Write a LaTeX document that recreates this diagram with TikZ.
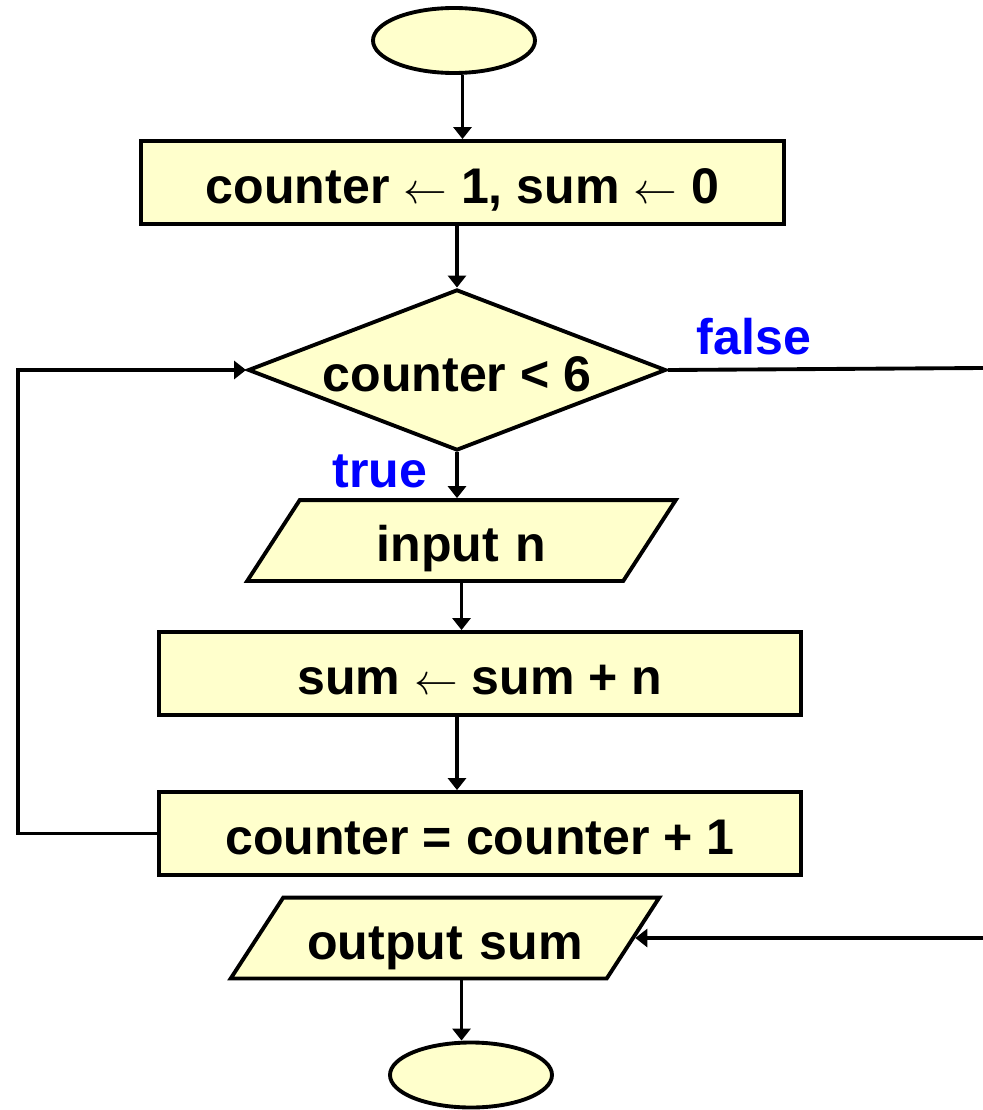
\documentclass[tikz,border=0pt]{standalone}
\usepackage{fontspec}
\setmainfont{Liberation Sans}
\usepackage{amsmath}
\usetikzlibrary{shapes.geometric, arrows.meta}
\definecolor{boxfill}{HTML}{FFFFCC}
\newcommand{\getsarrow}{{\fontsize{36}{36}\selectfont$\leftarrow$}}

\tikzset{
  flow/.style={draw, line width=2.2pt, fill=boxfill, text height=24pt, text depth=0pt,
    font=\bfseries\fontsize{28.5}{34}\selectfont},
  term/.style={flow, ellipse, text height=0pt, inner sep=0pt, minimum width=3.24cm, minimum height=1.3cm},
  proc/.style={flow, rectangle, minimum width=12.85cm, minimum height=1.66cm, inner sep=0pt},
  cond/.style={flow, diamond, shape aspect=2.6, inner sep=0pt, minimum width=8.36cm, minimum height=3.22cm},
  io/.style={flow, trapezium, trapezium left angle=57, trapezium right angle=123,
    text width=6.47cm, align=center, inner xsep=0pt, inner ysep=0.387cm},
  lbl/.style={text=blue, font=\bfseries\fontsize{28.5}{34}\selectfont},
  link/.style={line width=2.2pt, -{Triangle[length=0.24cm, width=0.36cm]}}
}

\begin{document}
\begin{tikzpicture}
\useasboundingbox (0,0) rectangle (19.66,-22.2);

% Flowchart boxes
\node[term] (start) at (9.08,-0.81) {};
\node[proc] (init) at (9.25,-3.65) {counter \getsarrow{} 1, sum \getsarrow{} 0};
\node[cond] (test) at (9.14,-7.40) {counter < 6};
\node[io] (input) at (9.23,-10.81) {input n};
\node[proc] (sum) at (9.6,-13.47) {sum \getsarrow{} sum + n};
\node[proc] (incr) at (9.6,-16.67) {counter = counter + 1};
\node[io] (output) at (8.9,-18.76) {output sum};
\node[term] (stop) at (9.42,-21.5) {};

% Branch labels
\node[lbl] (true) at (7.6,-9.42) {true};
\node[lbl] (false) at (15.08,-6.74) {false};

% Loose ends at the right margin
\coordinate (falseend) at (19.66,-7.36);
\coordinate (falseback) at (19.66,-18.76);

% Connectors
\draw[link] (start.south -| init.north) -- (init.north);
\draw[link] (init.south -| test.north) -- (test.north);
\draw[link] (test.south) -- (test.south |- input.north);
\draw[link] (input.south) -- (input.south |- sum.north);
\draw[link] (sum.south -| test.south) -- (test.south |- incr.north);
\draw[link] (incr.west) -- ++(-2.78,0) |- (test.west);
\draw[line width=2.2pt] (test.east) -- (falseend);
\draw[link] (falseback) -- (output.east);
\draw[link] (output.south -| input.south) -- (input.south |- stop.north);
\end{tikzpicture}
\end{document}
